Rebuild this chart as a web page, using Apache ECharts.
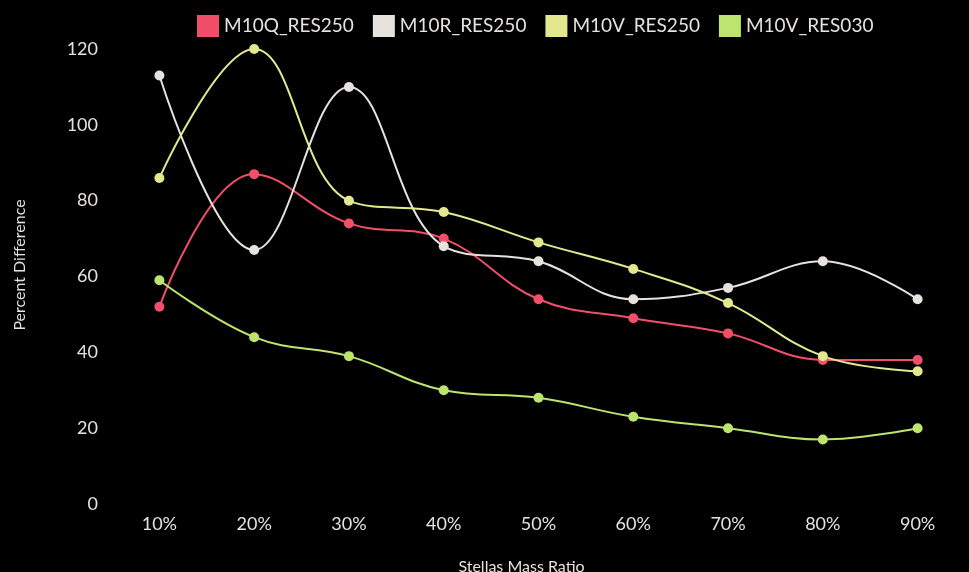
<!DOCTYPE html>
<html><head><meta charset="utf-8">
<script src="https://cdn.jsdelivr.net/npm/echarts@6/dist/echarts.min.js"></script>
<style>html,body{margin:0;padding:0;background:#000;}#c{width:969px;height:572px;}</style>
</head><body><div id="c"></div>
<script>
const categories = ['10%','20%','30%','40%','50%','60%','70%','80%','90%'];
const seriesNames = ['M10Q_RES250','M10R_RES250','M10V_RES250','M10V_RES030'];
const m10qRes250 = [52, 87, 74, 70, 54, 49, 45, 38, 38];
const m10rRes250 = [113, 67, 110, 68, 64, 54, 57, 64, 54];
const m10vRes250 = [86, 120, 80, 77, 69, 62, 53, 39, 35];
const m10vRes030 = [59, 44, 39, 30, 28, 23, 20, 17, 20];
const colors = ['#f14f69', '#e6e2dd', '#e3e88f', '#bde46f'];

const chart = echarts.init(document.getElementById('c'));
const font = 'Lato';
const mk = (name, data, color) => ({
  name, type: 'line', data, smooth: 0.4,
  symbol: 'circle', symbolSize: 10,
  lineStyle: { width: 2, color },
  itemStyle: { color },
  emphasis: { disabled: true }
});
chart.setOption({
  backgroundColor: '#000',
  animation: false,
  textStyle: { fontFamily: font },
  legend: {
    left: 192, top: 10,
    itemWidth: 22, itemHeight: 22, itemGap: 19,
    icon: 'rect',
    textStyle: { color: '#e6e2dd', fontSize: 19, fontFamily: font },
    data: seriesNames
  },
  grid: { left: 112, right: 4, top: 49, bottom: 68, containLabel: false, outerBoundsMode: 'none' },
  xAxis: {
    type: 'category', data: categories, boundaryGap: true,
    axisLine: { show: false }, axisTick: { show: false }, splitLine: { show: false },
    axisLabel: { color: '#e6e2dd', fontSize: 18, margin: 11, fontFamily: font },
    name: 'Stellas Mass Ratio', nameLocation: 'middle', nameGap: 55,
    nameTextStyle: { color: '#e6e2dd', fontSize: 16, fontFamily: font, padding: [0, 34, 0, 0] }
  },
  yAxis: {
    type: 'value', min: 0, max: 120, interval: 20,
    axisLine: { show: false }, axisTick: { show: false }, splitLine: { show: false },
    axisLabel: { color: '#e6e2dd', fontSize: 18, margin: 14, fontFamily: font },
    name: 'Percent Difference', nameLocation: 'middle', nameGap: 84,
    nameTextStyle: { color: '#e6e2dd', fontSize: 16, fontFamily: font, padding: [0, 0, 0, 23] }
  },
  series: [
    mk(seriesNames[0], m10qRes250, colors[0]),
    mk(seriesNames[1], m10rRes250, colors[1]),
    mk(seriesNames[2], m10vRes250, colors[2]),
    mk(seriesNames[3], m10vRes030, colors[3])
  ]
});
</script></body></html>
